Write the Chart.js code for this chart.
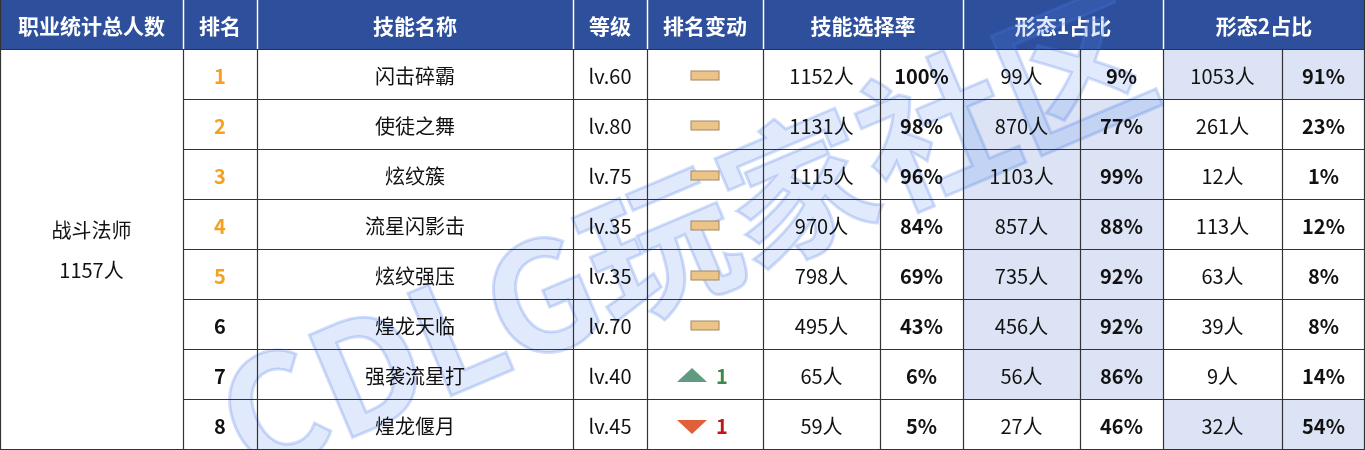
<!DOCTYPE html>
<html><head><meta charset="utf-8">
<script src="https://cdn.jsdelivr.net/npm/chart.js@4.4.1/dist/chart.umd.min.js"></script>
<style>html,body{margin:0;padding:0;background:#fff}#wrap{width:1365px;height:450px}</style>
</head><body><div id="wrap"><canvas id="c" width="1365" height="450"></canvas></div>
<script>
const headers = ['职业统计总人数','排名','技能名称','等级','排名变动','技能选择率','形态1占比','形态2占比'];
const className = '战斗法师';
const classTotal = '1157人';
const ranks = [1,2,3,4,5,6,7,8];
const skills = ['闪击碎霸','使徒之舞','炫纹簇','流星闪影击','炫纹强压','煌龙天临','强袭流星打','煌龙偃月'];
const levels = ['lv.60','lv.80','lv.75','lv.35','lv.35','lv.70','lv.40','lv.45'];
const rankChange = [0,0,0,0,0,0,1,-1];
const pickCount = [1152,1131,1115,970,798,495,65,59];
const pickPct = [100,98,96,84,69,43,6,5];
const form1Count = [99,870,1103,857,735,456,56,27];
const form1Pct = [9,77,99,88,92,92,86,46];
const form2Count = [1053,261,12,113,63,39,9,32];
const form2Pct = [91,23,1,12,8,8,14,54];

const edges = [0,183,257,573,647,763,880,963,1080,1163,1282,1365];
const headerSpans = [[0,1],[1,2],[2,3],[3,4],[4,5],[5,7],[7,9],[9,11]];
const FONT = '"Noto Sans CJK SC","Noto Sans",sans-serif';

const tablePlugin = {
  id:'table',
  afterDraw(chart){
    const ctx = chart.ctx, xs = chart.scales.x, ys = chart.scales.y;
    const X = v => xs.getPixelForValue(v), Y = v => ys.getPixelForValue(v);
    const cx = (a,b)=> (X(edges[a])+X(edges[b]))/2;
    const text=(t,x,y,font,color)=>{ctx.font=font;ctx.fillStyle=color;ctx.textAlign='center';ctx.textBaseline='middle';ctx.fillText(t,x,y);};
    ctx.save();
    ctx.fillStyle='#2d4f9c';
    ctx.fillRect(X(0),Y(0),X(1365)-X(0),Y(1)-Y(0));
    headerSpans.forEach((s,i)=>text(headers[i],cx(s[0],s[1]),(Y(0)+Y(1))/2+1,'bold 21px '+FONT,'#fff'));
    ranks.forEach((r,i)=>{
      const y0=Y(i+1),y1=Y(i+2);
      ctx.fillStyle='#dbe3f4';
      if(form1Count[i]>form2Count[i]) ctx.fillRect(X(edges[7]),y0,X(edges[9])-X(edges[7]),y1-y0);
      else ctx.fillRect(X(edges[9]),y0,X(edges[11])-X(edges[9]),y1-y0);
    });
    ctx.save();
    ctx.translate(X(685),Y(4.7));
    ctx.rotate(-0.40);
    ctx.font='bold 150px '+FONT;
    ctx.textAlign='center';ctx.textBaseline='middle';
    ctx.fillStyle='rgba(90,140,240,0.18)';
    ctx.fillText('CDLG玩家社区',0,0);
    ctx.strokeStyle='rgba(70,120,230,0.25)';ctx.lineWidth=3;
    ctx.strokeText('CDLG玩家社区',0,0);
    ctx.restore();
    ranks.forEach((r,i)=>{
      const ym=(Y(i+1)+Y(i+2))/2+1;
      text(String(r),cx(1,2),ym,'bold 20px '+FONT,r<=5?'#f5a01e':'#111');
      text(skills[i],cx(2,3),ym,'20px '+FONT,'#111');
      text(levels[i],cx(3,4),ym,'20px '+FONT,'#111');
      const c=cx(4,5);
      if(rankChange[i]===0){
        ctx.fillStyle='#ecc487';ctx.strokeStyle='#a08860';ctx.lineWidth=1;
        ctx.fillRect(c-14,ym-5,28,9);ctx.strokeRect(c-14,ym-5,28,9);
      } else if(rankChange[i]>0){
        ctx.fillStyle='#5e9b80';ctx.beginPath();ctx.moveTo(c-28,ym+6);ctx.lineTo(c-13,ym-8);ctx.lineTo(c+2,ym+6);ctx.closePath();ctx.fill();
        text(String(rankChange[i]),c+17,ym,'bold 20px '+FONT,'#3f8a4a');
      } else {
        ctx.fillStyle='#e0603a';ctx.beginPath();ctx.moveTo(c-28,ym-6);ctx.lineTo(c-13,ym+8);ctx.lineTo(c+2,ym-6);ctx.closePath();ctx.fill();
        text(String(-rankChange[i]),c+17,ym,'bold 20px '+FONT,'#c01818');
      }
      text(pickCount[i]+'人',cx(5,6),ym,'20px '+FONT,'#111');
      text(pickPct[i]+'%',cx(6,7),ym,'bold 20px '+FONT,'#111');
      text(form1Count[i]+'人',cx(7,8),ym,'20px '+FONT,'#111');
      text(form1Pct[i]+'%',cx(8,9),ym,'bold 20px '+FONT,'#111');
      text(form2Count[i]+'人',cx(9,10),ym,'20px '+FONT,'#111');
      text(form2Pct[i]+'%',cx(10,11),ym,'bold 20px '+FONT,'#111');
    });
    text(className,cx(0,1),(Y(1)+Y(9))/2-20,'20px '+FONT,'#111');
    text(classTotal,cx(0,1),(Y(1)+Y(9))/2+20,'20px '+FONT,'#111');
    ctx.strokeStyle='#333';ctx.lineWidth=1.2;
    ctx.beginPath();
    for(let i=1;i<=9;i++){const y=Math.round(Y(i))-0.5;ctx.moveTo(i===9?X(0):X(edges[1]),y);ctx.lineTo(X(1365),y);}
    ctx.moveTo(X(0),Math.round(Y(1))-0.5);ctx.lineTo(X(edges[1]),Math.round(Y(1))-0.5);
    edges.forEach((e,k)=>{
      const x=Math.round(X(e))+0.5;
      const top=(k===6||k===8||k===10)?Y(1):Y(0);
      ctx.moveTo(x,top);ctx.lineTo(x,Y(9));
    });
    ctx.moveTo(X(1365)-0.5,Y(0));ctx.lineTo(X(1365)-0.5,Y(9));
    ctx.moveTo(X(0),Y(9)-0.5);ctx.lineTo(X(1365),Y(9)-0.5);
    ctx.stroke();
    ctx.strokeStyle='#fff';ctx.lineWidth=1.5;ctx.beginPath();
    headerSpans.forEach(s=>{if(s[0]>0){const x=Math.round(X(edges[s[0]]))+0.5;ctx.moveTo(x,Y(0));ctx.lineTo(x,Y(1)-1);}});
    ctx.stroke();
    ctx.restore();
  }
};

new Chart(document.getElementById('c'),{
  type:'scatter',
  data:{datasets:[{data:[]}]},
  options:{
    responsive:false,animation:false,
    layout:{padding:0},
    plugins:{legend:{display:false},tooltip:{enabled:false}},
    scales:{
      x:{type:'linear',min:0,max:1365,display:false},
      y:{type:'linear',min:0,max:9,reverse:true,display:false}
    }
  },
  plugins:[tablePlugin]
});
</script></body></html>
